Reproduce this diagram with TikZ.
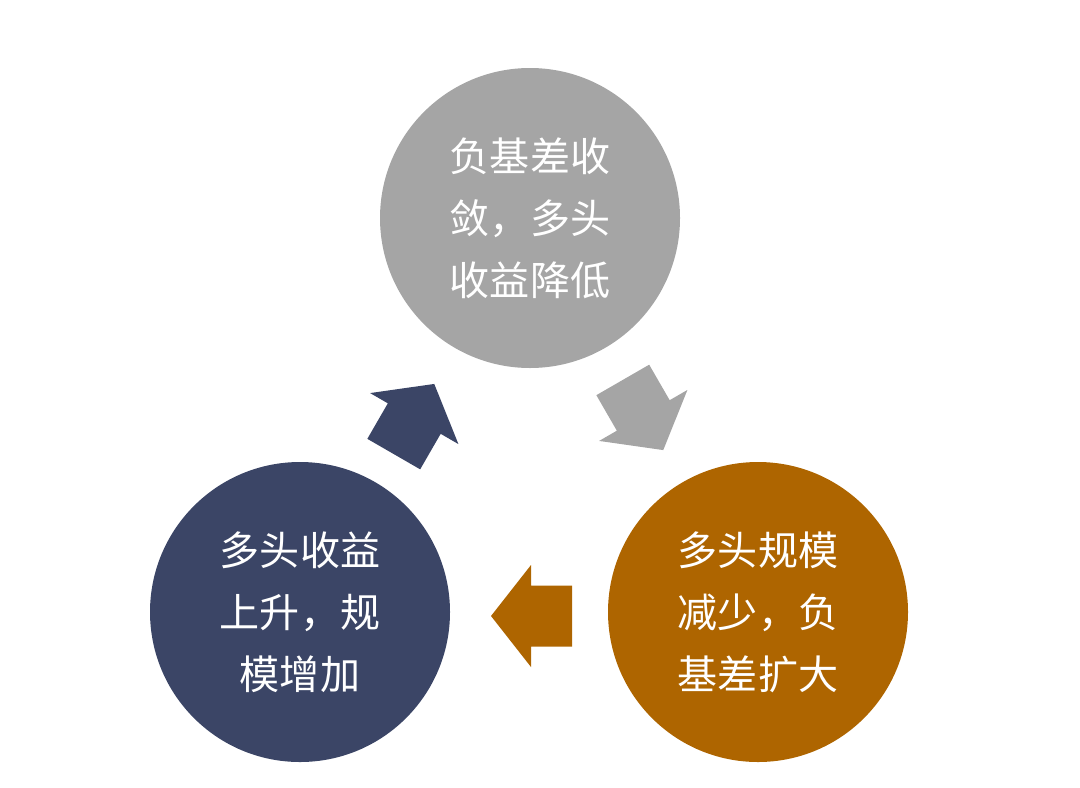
\documentclass[tikz,border=0pt]{standalone}
\usepackage{fontspec}
\newfontfamily\cjk{Noto Sans CJK SC}
\usepackage{tikz}
\definecolor{cgray}{HTML}{A5A5A5}
\definecolor{cnavy}{HTML}{3B4566}
\definecolor{corange}{HTML}{AE6500}
\tikzset{
  bubble/.style={circle, minimum size=3cm, inner sep=0pt, text=white, align=center,
    font=\cjk\fontsize{11.4}{17.6}\selectfont},
}
\newcommand{\blockarrow}[3]{%
  \fill[#3, shift={#1}, rotate=#2] (0.405,0) -- (0.005,0.51) -- (0.005,0.305) -- (-0.405,0.305)
    -- (-0.405,-0.305) -- (0.005,-0.305) -- (0.005,-0.51) -- cycle;}
\begin{document}
\begin{tikzpicture}
\useasboundingbox (0,0) rectangle (10.80,7.87);
\node[bubble, fill=cgray] (top) at (5.30,5.69) {负基差收\\敛，多头\\收益降低};
\node[bubble, fill=corange] (right) at (7.58,1.75) {多头规模\\减少，负\\基差扩大};
\node[bubble, fill=cnavy] (left) at (3.00,1.75) {多头收益\\上升，规\\模增加};
\blockarrow{(6.43,3.72)}{-60}{cgray}
\blockarrow{(5.315,1.71)}{180}{corange}
\blockarrow{(4.14,3.68)}{60}{cnavy}
\end{tikzpicture}
\end{document}
